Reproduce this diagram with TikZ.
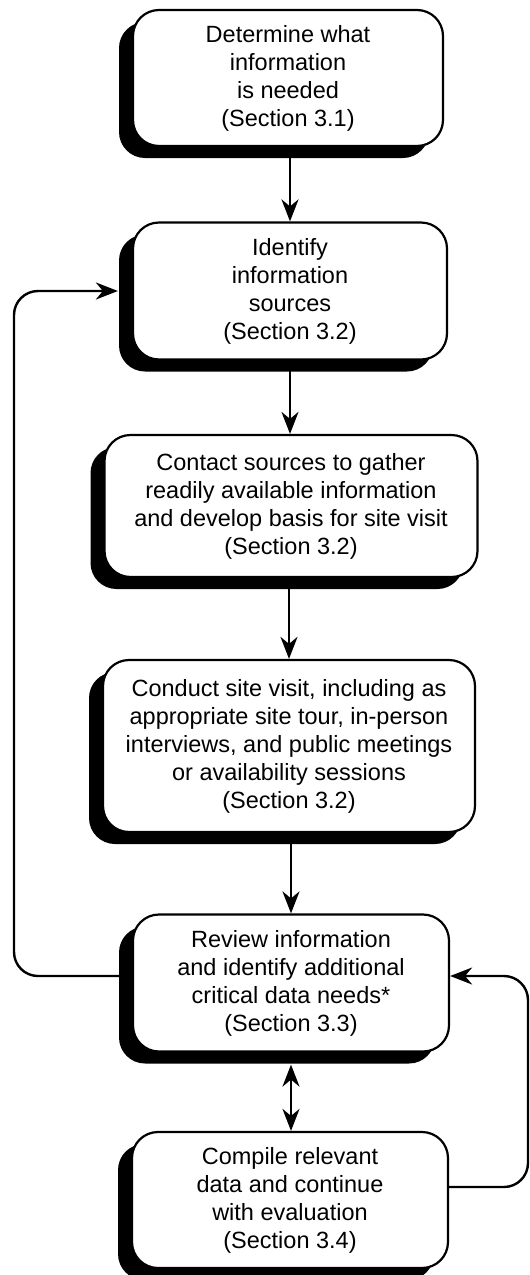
\documentclass[tikz,border=0pt]{standalone}
\usepackage{fontspec}
\setmainfont{Liberation Sans}
\usetikzlibrary{
  arrows.meta,
  shadows
}

\begin{document}
\begin{tikzpicture}[x=1pt, y=-1pt,
    stepbox/.style={draw, line width=2.2pt, rounded corners=26pt, fill=white,
      align=center, minimum width=314pt, minimum height=137pt,
      font=\fontsize{23.5}{28}\selectfont,
      drop shadow={shadow xshift=-14pt, shadow yshift=-12pt, fill=black, opacity=1}},
    seta/.style={line width=2.4pt, -{Stealth[length=22pt, width=17pt, inset=7pt]}},
    dupla/.style={line width=2.4pt, {Stealth[length=22pt, width=17pt, inset=7pt]}-{Stealth[length=22pt, width=17pt, inset=7pt]}}]
        % Moldura com o tamanho da figura
        \useasboundingbox (0,0) rectangle (530,1275);

        % Caixas das etapas
        \node[stepbox, minimum width=310pt, minimum height=136pt] (need) at (288,78)
          {Determine what\\information\\is needed\\(Section 3.1)};
        \node[stepbox] (sources) at (290,291)
          {Identify\\information\\sources\\(Section 3.2)};
        \node[stepbox, minimum width=373pt, minimum height=142pt] (contact) at (291,506)
          {Contact sources to gather\\readily available information\\and develop basis for site visit\\(Section 3.2)};
        \node[stepbox, minimum width=372pt, minimum height=172pt] (visit) at (289,746)
          {Conduct site visit, including as\\appropriate site tour, in-person\\interviews, and public meetings\\or availability sessions\\(Section 3.2)};
        \node[stepbox, minimum width=316pt] (review) at (291,983)
          {Review information\\and identify additional\\critical data needs*\\(Section 3.3)};
        \node[stepbox, minimum width=316pt, minimum height=136pt] (compile) at (290,1200)
          {Compile relevant\\data and continue\\with evaluation\\(Section 3.4)};

        % Setas entre as caixas
        \draw[seta] (need.south -| sources.north) -- (sources.north);
        \draw[seta] (sources.south) -- (sources.south |- contact.north);
        \draw[seta] (contact.south -| visit.north) -- (visit.north);
        \draw[seta] (visit.south -| review.north) -- (review.north);
        \draw[dupla] ([yshift=-12pt]review.south) -- (review.south |- compile.north);

        % Laco da esquerda, de volta a identificar as fontes
        \coordinate (esq) at (14,0);
        \draw[seta, rounded corners=24pt] ([yshift=7pt]review.west) -- ([yshift=7pt]review.west -| esq)
          -- (sources.west -| esq) -- ([xshift=-14pt]sources.west);

        % Laco da direita, de volta a revisao
        \coordinate (dir) at (528,0);
        \draw[seta, rounded corners=24pt] ([yshift=13pt]compile.east) -- ([yshift=13pt]compile.east -| dir)
          -- ([yshift=7pt]review.east -| dir) -- ([yshift=7pt]review.east);
    \end{tikzpicture}
\end{document}
